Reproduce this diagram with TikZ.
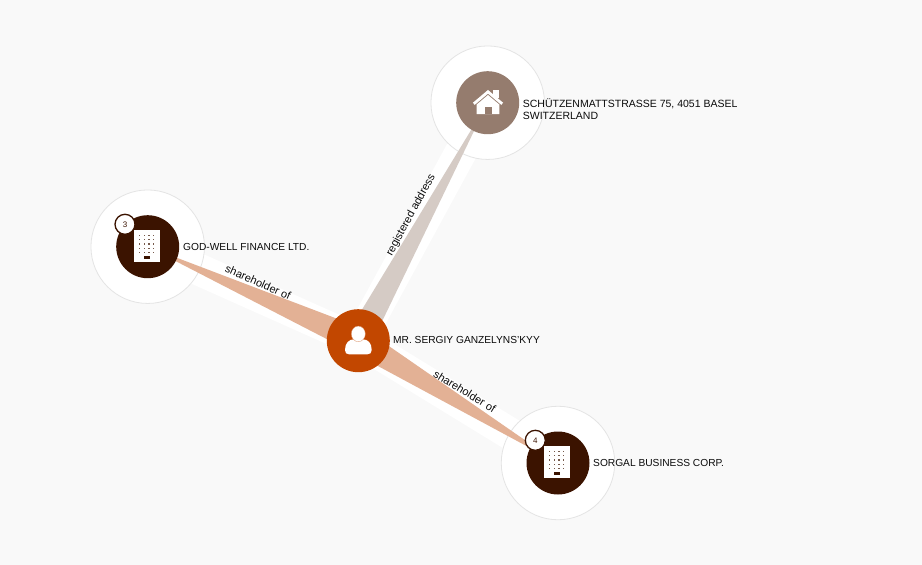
\documentclass[tikz,border=0pt]{standalone}
\usepackage{fontspec}
\setmainfont{Liberation Sans}
\usetikzlibrary{calc}
\pgfdeclarelayer{bands}
\pgfdeclarelayer{halos}
\pgfdeclarelayer{wedges}
\pgfsetlayers{bands,halos,wedges,main}
\definecolor{pagebg}{HTML}{F9F9F9}
\definecolor{haloedge}{HTML}{E4E4E4}
\definecolor{companycol}{HTML}{3B1300}
\definecolor{personcol}{HTML}{C24700}
\definecolor{sharecol}{HTML}{E3B195}
\definecolor{addresscol}{HTML}{957C6E}
\definecolor{labelcol}{HTML}{0A0A0A}
\tikzset{
  entity/.style={circle, minimum size=63pt, inner sep=0pt, fill=#1},
  halo/.style={circle, minimum size=113.5pt, inner sep=0pt, draw=haloedge, line width=0.8pt, fill=white},
  badge/.style={circle, minimum size=20pt, inner sep=0pt, draw=companycol, line width=1.3pt, fill=white, text=companycol, font=\fontsize{8}{8}\selectfont},
  namelabel/.style={anchor=west, inner sep=0pt, align=left, text=labelcol, font=\fontsize{10.2}{12}\selectfont},
  edgelabel/.style={midway, sloped, above=8.5pt, inner sep=0pt, outer sep=0pt, text=labelcol, font=\fontsize{11}{12}\selectfont},
  band/.style={white, line width=32pt},
  wedge/.style={fill=#1},
  pics/building/.style={code={
    \fill[white] (-13,-16.2) rectangle (13,16.2);
    \foreach \col in {0,...,3}
      \foreach \row in {0,...,4}
        \fill[companycol!70!white] ({-7.2+4.6*\col-0.6},{-11+4.4*\row-0.6}) rectangle ++(1.2,1.2);
    \fill[companycol] (-3,10) rectangle (3,13.2);
  }}
}
\begin{document}
\begin{tikzpicture}[x=1pt,y=-1pt]
  \begin{pgfonlayer}{bands}
    \fill[pagebg] (0,0) rectangle (922,565);
  \end{pgfonlayer}

  \node[entity=companycol] (godwell) at (147.7,246.7) {};
  \node[entity=companycol] (sorgal) at (558,463) {};
  \node[entity=addresscol] (address) at (487.7,102.7) {};
  \node[entity=personcol] (person) at (358.3,340.7) {};

  \begin{pgfonlayer}{bands}
    \draw[band] (godwell.center) -- (person.center) node[edgelabel] (sharegodwell) {shareholder of};
    \draw[band] (person.center) -- (sorgal.center) node[edgelabel] (sharesorgal) {shareholder of};
    \draw[band] (person.center) -- (address.center) node[edgelabel] (regaddress) {registered address};
  \end{pgfonlayer}

  \begin{pgfonlayer}{halos}
    \node[halo] (godwellhalo) at (godwell.center) {};
    \node[halo] (sorgalhalo) at (sorgal.center) {};
    \node[halo] (addresshalo) at (address.center) {};
  \end{pgfonlayer}

  \begin{pgfonlayer}{wedges}
    \fill[wedge=sharecol] (godwell.center) -- ($(person.center)!13pt!90:(godwell.center)$) -- ($(person.center)!13pt!-90:(godwell.center)$) -- cycle;
    \fill[wedge=sharecol] (sorgal.center) -- ($(person.center)!13pt!90:(sorgal.center)$) -- ($(person.center)!13pt!-90:(sorgal.center)$) -- cycle;
    \fill[wedge=addresscol!40!white] (address.center) -- ($(person.center)!13pt!90:(address.center)$) -- ($(person.center)!13pt!-90:(address.center)$) -- cycle;
  \end{pgfonlayer}

  % company icons
  \pic at (147,246.2) {building};
  \pic at (557,462.2) {building};
  \node[badge] (godwellbadge) at (125,224.3) {3};
  \node[badge] (sorgalbadge) at (535.3,440.3) {4};

  % person icon
  \fill[white] (345,350) .. controls (345,343) and (349,339.3) .. (354,339.3) -- (362.7,339.3) .. controls (368,339.3) and (371.7,343) .. (371.7,350) .. controls (371.7,353) and (370,354.3) .. (367.5,354.3) -- (349,354.3) .. controls (346.5,354.3) and (345,353) .. (345,350) -- cycle;
  \fill[white, draw=personcol!60!white, line width=0.3pt] (358.3,333.9) ellipse (7pt and 7.8pt);

  % house icon
  \fill[white] (493.3,90) rectangle (499.3,98);
  \fill[white] (476.7,114) -- (476.7,104.5) -- (488,95) -- (499.3,104.5) -- (499.3,114) -- cycle;
  \draw[white, line width=2.8pt] (473.8,103.8) -- (488,91.8) -- (502.2,103.8);
  \fill[addresscol] (485,114) rectangle (491.7,106.7);

  \node[namelabel] (godwellname) at (183,247) {GOD-WELL FINANCE LTD.};
  \node[namelabel] (personname) at (393,340.3) {MR. SERGIY GANZELYNS'KYY};
  \node[namelabel, font=\fontsize{10.5}{12}\selectfont] (addressname) at (522.7,109) {SCHÜTZENMATTSTRASSE 75, 4051 BASEL\\SWITZERLAND};
  \node[namelabel] (sorgalname) at (593,463) {SORGAL BUSINESS CORP.};
\end{tikzpicture}
\end{document}
